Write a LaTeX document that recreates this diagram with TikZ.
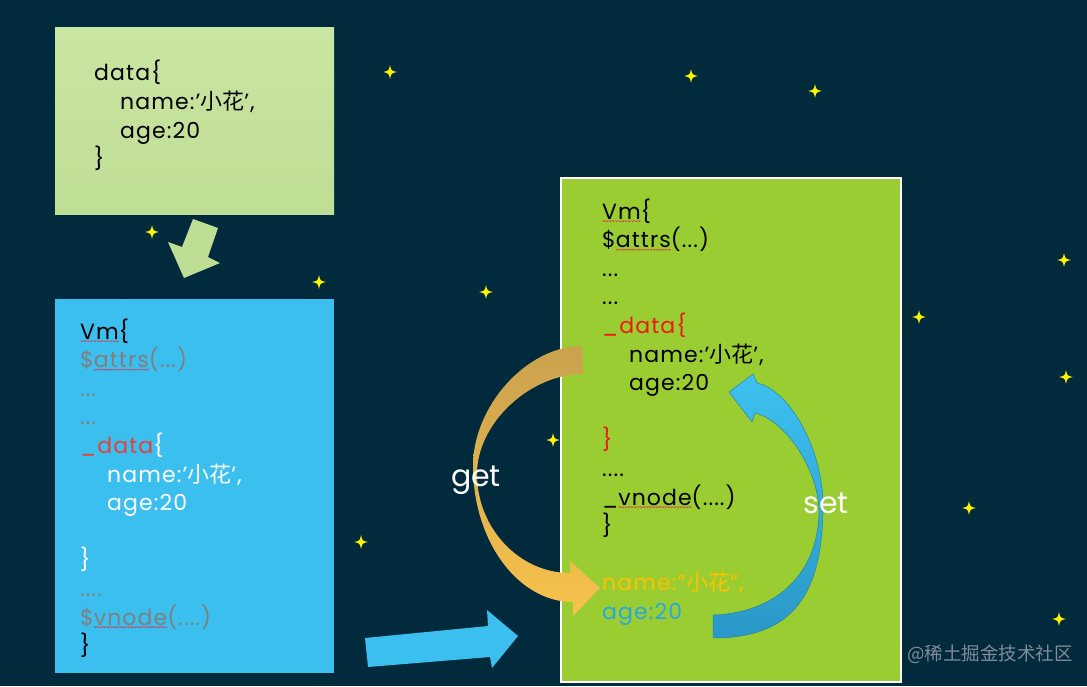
\documentclass[tikz,border=0pt]{standalone}
\usepackage{fontspec}
\setmainfont{Poppins}
\newfontfamily\cjk{Noto Sans CJK SC}
\usetikzlibrary{positioning}
\definecolor{night}{HTML}{022A3D}
\definecolor{mintlight}{HTML}{C9E5A3}
\definecolor{mint}{HTML}{BFDE95}
\definecolor{sky}{HTML}{3BBFEE}
\definecolor{lime}{HTML}{9ACD32}
\definecolor{dim}{HTML}{808080}
\definecolor{rust}{HTML}{E2413B}
\definecolor{hotred}{HTML}{EE1A10}
\definecolor{amber}{HTML}{FFC000}
\definecolor{seablue}{HTML}{27A8E0}
\definecolor{spellred}{HTML}{E0304A}
\definecolor{wmgray}{HTML}{7F8C98}
\definecolor{goldtop}{HTML}{C9A24E}
\definecolor{goldbot}{HTML}{F8C24C}
\definecolor{skytop}{HTML}{3DC1F0}
\definecolor{skybot}{HTML}{2A98C8}
\newsavebox\spellbox
\newcommand\spell[1]{\sbox\spellbox{#1}\rlap{\lower3pt\hbox to\wd\spellbox{\xleaders\hbox{\tikz\draw[spellred, line width=0.6pt]
   (0pt,0pt) -- (1.2pt,-1.2pt) -- (2.4pt,0pt);}\hfill}}\usebox\spellbox}
\tikzset{
  code/.style={anchor=base west, inner sep=0pt, font=\fontsize{22}{26}\selectfont\addfontfeature{LetterSpace=5}},
  bigword/.style={inner sep=0pt, text=white, font=\fontsize{30}{36}\selectfont},
  twinkle/.pic={\fill[yellow] (0,-7) .. controls (1.2,-1.2) .. (7,0) .. controls (1.2,1.2) .. (0,7)
     .. controls (-1.2,1.2) .. (-7,0) .. controls (-1.2,-1.2) .. (0,-7) -- cycle;},
}

\begin{document}
\begin{tikzpicture}[x=1pt, y=-1pt]
  \useasboundingbox (0,0) rectangle (1087,686);
  \fill[night] (0,0) rectangle (1087,686);
  \foreach \p in {(390,72),(691,76),(815,91),(152,232),(319,282),(486,292),(1064,260),
                  (919,317),(1066,377),(553,440),(361,542),(969,508),(1059,619)} {
    \pic at \p {twinkle};
  }

  % boxes
  \shade[top color=mintlight, bottom color=mint] (55,27) rectangle (334,214);
  \fill[sky] (55,299) rectangle (334,673);
  \draw[white, line width=2pt, fill=lime] (561,178) rectangle (901,682);

  % block arrows
  \fill[mint] (193,219) -- (218,228) -- (208,257) -- (220,263) -- (184,278) -- (168,242) -- (182,247) -- cycle;
  \fill[sky] (365,638) -- (488,626) -- (487,610) -- (518,636) -- (492,668) -- (490,657) -- (368,667) -- cycle;

  % get arrow
  \shade[top color=goldtop, bottom color=goldbot]
    (582,346) .. controls (527,346) and (473,406) .. (473,466)
    .. controls (473,541) and (518,602) .. (573,602)
    -- (573,616) -- (600,588) -- (570,561) -- (570,573)
    .. controls (519,573) and (477,528) .. (477,474)
    .. controls (477,423) and (530,374) .. (583,374) -- cycle;

  % set arrow
  \shade[top color=skytop, bottom color=skybot, draw=skybot!80!black, line width=0.4pt]
    (713,638) .. controls (790,638) and (823,598) .. (823,505)
    .. controls (823,450) and (790,390) .. (757,383)
    -- (753,374) -- (729,392) -- (752,422) -- (755,413)
    .. controls (785,420) and (819,470) .. (819,512)
    .. controls (818,575) and (775,613) .. (713,615) -- cycle;

  % data
  \node[code] (d0) at (94,80) {data\{};
  \node[code] (d1) at (120,109) {name:’{\cjk 小花}’,};
  \node[code] (d2) at (120,138) {age:20};
  \node[code] (d3) at (94,166) {\}};

  % Vm before
  \foreach \i/\dx/\txt in {0/0/{\spell{Vm}\{}, 1/0/{\color{dim}\$\spell{attrs}(...)},
      2/0/{\color{dim}...}, 3/0/{\color{dim}...},
      4/0/{\textcolor{rust}{\_data}\textcolor{white}{\{}},
      5/27/{\color{white}name:’{\cjk 小花}’,}, 6/27/{\color{white}age:20},
      8/0/{\color{white}\}}, 9/0/{\color{dim}....},
      10/0/{\color{dim}\$\spell{vnode}(....)}, 11/0/{\}}} {
    \node[code] (va\i) at (80+\dx, 339+28.6*\i) {\txt};
  }

  % Vm after
  \foreach \i/\dx/\txt in {0/0/{\spell{Vm}\{}, 1/0/{\$\spell{attrs}(...)},
      2/0/{...}, 3/0/{...}, 4/0/{\color{hotred}\_data\{},
      5/27/{name:’{\cjk 小花}’,}, 6/27/{age:20},
      8/0/{\color{hotred}\}}, 9/0/{....},
      10/0/{\_\spell{vnode}(....)}, 11/0/{\}},
      13/0/{\color{amber}name:”{\cjk 小花}”,}, 14/0/{\color{seablue}age:20}} {
    \node[code] (vb\i) at (602+\dx, 219+28.6*\i) {\txt};
  }

  \node[bigword] (get) at (476,480) {get};
  \node[bigword] (set) at (826,503) {set};
  \node[inner sep=0pt, text=wmgray, font=\cjk\fontsize{18.5}{20}\selectfont] (wm) at (990,654) {@稀土掘金技术社区};
\end{tikzpicture}
\end{document}
